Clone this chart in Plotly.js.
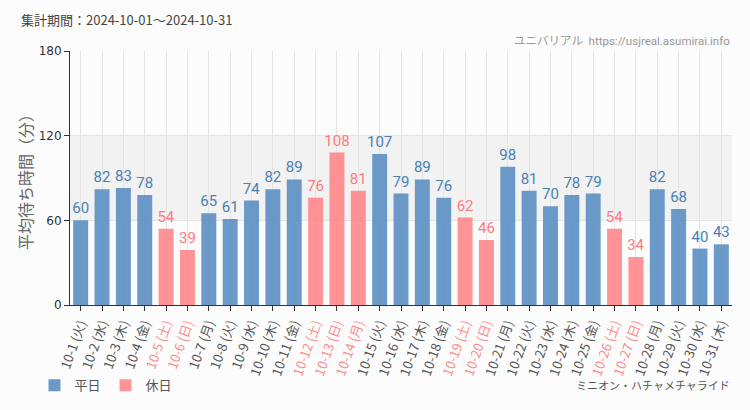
<!DOCTYPE html>
<html>
<head>
<meta charset="utf-8">
<script src="https://cdn.plot.ly/plotly-3.0.1.min.js"></script>
<style>html,body{margin:0;padding:0;background:#fbfcfb;}#chart{width:750px;height:410px;}</style>
</head>
<body>
<div id="chart"></div>
<script>
const dates = ["10-1","10-2","10-3","10-4","10-5","10-6","10-7","10-8","10-9","10-10","10-11","10-12","10-13","10-14","10-15","10-16","10-17","10-18","10-19","10-20","10-21","10-22","10-23","10-24","10-25","10-26","10-27","10-28","10-29","10-30","10-31"];
const weekdays = ["火","水","木","金","土","日","月","火","水","木","金","土","日","月","火","水","木","金","土","日","月","火","水","木","金","土","日","月","火","水","木"];
const waitMinutes = [60,82,83,78,54,39,65,61,74,82,89,76,108,81,107,79,89,76,62,46,98,81,70,78,79,54,34,82,68,40,43];
const holidays = ["10-5","10-6","10-12","10-13","10-14","10-19","10-20","10-26","10-27"];

const BLUE = "rgba(88,140,192,0.88)";
const PINK = "rgba(255,128,132,0.85)";
const BLUE_TXT = "#4a7fb5";
const PINK_TXT = "#ff7a7e";
const NUM = "Roboto,'Noto Sans CJK JP',sans-serif";
const JP = "'Noto Sans CJK JP',sans-serif";

const isHol = dates.map(d => holidays.includes(d));
const ticktext = dates.map((d,i) => {
  const t = d + " (" + weekdays[i] + ")";
  return isHol[i] ? '<span style="color:#ff8a8e">' + t + '</span>' : t;
});

function mk(name, hol, color, tcolor){
  const y = waitMinutes.map((v,i) => isHol[i] === hol ? v : null);
  return {
    type: "bar", name: name, x: dates, y: y,
    marker: {color: color},
    text: y.map(v => v === null ? "" : String(v)),
    textposition: "outside",
    constraintext: "none",
    cliponaxis: false,
    textfont: {family: NUM, size: 15, color: tcolor},
    hoverinfo: "none"
  };
}

const data = [mk("平日", false, BLUE, BLUE_TXT), mk("休日", true, PINK, PINK_TXT)];

const layout = {
  width: 750, height: 410,
  paper_bgcolor: "#fbfcfb", plot_bgcolor: "#fbfcfb",
  margin: {l: 70, r: 18, t: 51, b: 105},
  barmode: "overlay", bargap: 0.3,
  showlegend: true,
  legend: {orientation: "h", xref: "container", yref: "container", x: 0.046, xanchor: "left",
           y: 0.06, yanchor: "middle",
           font: {family: JP, size: 13, color: "#555"}, itemwidth: 30, tracegroupgap: 0},
  xaxis: {
    type: "category", tickmode: "array", tickvals: dates, ticktext: ticktext,
    tickangle: -70, tickfont: {family: JP, size: 13, color: "#555"},
    showgrid: true, gridcolor: "#e4e4e4", gridwidth: 1,
    showline: true, linecolor: "#333", linewidth: 1,
    ticks: "outside", ticklen: 5, tickcolor: "#333",
    range: [-0.5, 30.5], automargin: false
  },
  yaxis: {
    range: [0, 180], tickvals: [0, 60, 120, 180],
    tickfont: {family: "'DejaVu Sans',sans-serif", size: 12, color: "#333"},
    showgrid: true, gridcolor: "#e4e4e4",
    zeroline: false, automargin: false,
    showline: true, linecolor: "#333", linewidth: 1,
    ticks: "outside", ticklen: 5, tickcolor: "#333",
    title: {text: "平均待ち時間（分）", font: {family: JP, size: 16, color: "#666"}, standoff: 2}
  },
  shapes: [{type: "rect", xref: "paper", yref: "y", x0: 0, x1: 1, y0: 60, y1: 120,
            fillcolor: "#f2f2f2", line: {width: 0}, layer: "below"}],
  annotations: [
    {text: "集計期間：2024-10-01～2024-10-31", xref: "paper", yref: "paper", x: -0.077, y: 1.125,
     xanchor: "left", yanchor: "middle", showarrow: false, font: {family: JP, size: 13, color: "#444"}},
    {text: "ユニバリアル  https://usjreal.asumirai.info", xref: "paper", yref: "paper", x: 1, y: 1.04,
     xanchor: "right", yanchor: "middle", showarrow: false, font: {family: NUM, size: 11.5, color: "#999"}},
    {text: "ミニオン・ハチャメチャライド", xref: "paper", yref: "paper", x: 1, y: -0.315,
     xanchor: "right", yanchor: "middle", showarrow: false, font: {family: JP, size: 11, color: "#555"}}
  ]
};

Plotly.newPlot("chart", data, layout, {displayModeBar: false, staticPlot: true});
</script>
</body>
</html>
